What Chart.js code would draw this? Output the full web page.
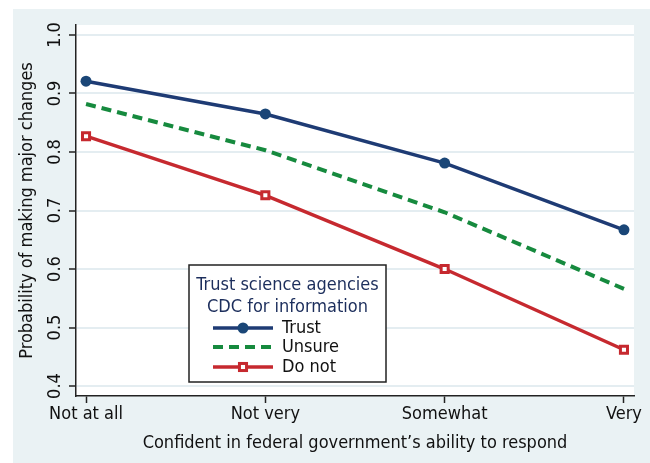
<!DOCTYPE html>
<html>
<head>
<meta charset="utf-8">
<script src="https://cdn.jsdelivr.net/npm/chart.js@4/dist/chart.umd.min.js"></script>
<style>
  html, body { margin: 0; background: #fff; overflow: hidden; width: 650px; height: 463px; }
  #wrap { position: absolute; left: 13px; top: 9px; width: 637px; height: 454px; background: #eaf2f4; }
</style>
</head>
<body>
<div id="wrap"><canvas id="myChart"></canvas></div>
<script>
const categories = ["Not at all", "Not very", "Somewhat", "Very"];
const trust = [0.921, 0.865, 0.781, 0.667];
const unsure = [0.882, 0.803, 0.697, 0.566];
const doNot = [0.827, 0.726, 0.600, 0.462];
const yTicks = [0.4, 0.5, 0.6, 0.7, 0.8, 0.9, 1.0];

const FONT = "'DejaVu Sans Condensed', 'Liberation Sans Narrow', sans-serif";
const toPoints = (arr) => arr.map((v, i) => ({ x: i, y: v }));

// white plot region
const plotBg = {
  id: "plotBg",
  beforeDraw(chart) {
    const { ctx, chartArea: a } = chart;
    ctx.save();
    ctx.fillStyle = "#fff";
    ctx.fillRect(a.left, a.top, a.right - a.left, a.bottom - a.top);
    ctx.restore();
  },
};

// vertical y tick labels (Stata style), placed with the y scale
const yLabels = {
  id: "yLabels",
  afterDraw(chart) {
    const { ctx } = chart;
    const s = chart.scales.y;
    ctx.save();
    ctx.font = "18px " + FONT;
    ctx.fillStyle = "#111";
    ctx.textAlign = "center";
    ctx.textBaseline = "middle";
    yTicks.forEach((v) => {
      ctx.save();
      ctx.translate(s.right - 21, s.getPixelForValue(v));
      ctx.rotate(-Math.PI / 2);
      ctx.fillText(v.toFixed(1), 0, 0);
      ctx.restore();
    });
    ctx.restore();
  },
};

// boxed legend inside the plot
const boxLegend = {
  id: "boxLegend",
  afterDatasetsDraw(chart) {
    const { ctx, chartArea: a } = chart;
    const x = a.left + 113, y = a.top + 240, w = 197, h = 117;
    ctx.save();
    ctx.fillStyle = "#fff";
    ctx.fillRect(x, y, w, h);
    ctx.strokeStyle = "#222";
    ctx.lineWidth = 1.5;
    ctx.strokeRect(x, y, w, h);

    ctx.font = "18px " + FONT;
    ctx.fillStyle = "#1c2e5c";
    ctx.textAlign = "center";
    ctx.textBaseline = "middle";
    ctx.fillText("Trust science agencies", x + w / 2, y + 20);
    ctx.fillText("CDC for information", x + w / 2, y + 42);

    const rows = [63, 82, 102];
    chart.data.datasets.forEach((ds, i) => {
      const ry = y + rows[i];
      ctx.strokeStyle = ds.borderColor;
      ctx.lineWidth = ds.borderWidth;
      ctx.setLineDash(ds.borderDash || []);
      ctx.beginPath();
      ctx.moveTo(x + 24, ry);
      ctx.lineTo(x + 84, ry);
      ctx.stroke();
      ctx.setLineDash([]);
      if (ds.pointRadius > 0) {
        const cx = x + 54;
        if (ds.pointStyle === "rect") {
          const s = ds.pointRadius / Math.SQRT2;
          ctx.fillStyle = ds.pointBackgroundColor;
          ctx.lineWidth = ds.pointBorderWidth;
          ctx.strokeStyle = ds.pointBorderColor;
          ctx.fillRect(cx - s, ry - s, 2 * s, 2 * s);
          ctx.strokeRect(cx - s, ry - s, 2 * s, 2 * s);
        } else {
          ctx.fillStyle = ds.pointBackgroundColor;
          ctx.beginPath();
          ctx.arc(cx, ry, ds.pointRadius, 0, Math.PI * 2);
          ctx.fill();
        }
      }
      ctx.fillStyle = "#111";
      ctx.textAlign = "left";
      ctx.fillText(ds.label, x + 93, ry);
    });
    ctx.restore();
  },
};

new Chart(document.getElementById("myChart"), {
  type: "line",
  data: {
    datasets: [
      {
        label: "Trust",
        data: toPoints(trust),
        borderColor: "#1e3b74",
        borderWidth: 3.5,
        pointRadius: 5.5,
        pointStyle: "circle",
        pointBackgroundColor: "#1a4677",
        pointBorderColor: "#1a4677",
        pointBorderWidth: 0,
      },
      {
        label: "Unsure",
        data: toPoints(unsure),
        borderColor: "#168a3e",
        borderWidth: 4,
        borderDash: [10, 6],
        pointRadius: 0,
      },
      {
        label: "Do not",
        data: toPoints(doNot),
        borderColor: "#c6292f",
        borderWidth: 3.5,
        pointRadius: 5,
        pointStyle: "rect",
        pointBackgroundColor: "#fff",
        pointBorderColor: "#c6292f",
        pointBorderWidth: 3,
      },
    ],
  },
  options: {
    responsive: true,
    maintainAspectRatio: false,
    animation: false,
    layout: { padding: { top: 16, right: 16, bottom: 0, left: 0 } },
    plugins: {
      legend: { display: false },
      tooltip: { enabled: false },
    },
    scales: {
      x: {
        type: "linear",
        min: -0.056,
        max: 3.056,
        afterBuildTicks: (axis) => {
          axis.ticks = categories.map((c, i) => ({ value: i }));
        },
        afterFit: (axis) => { axis.height = 67; },
        ticks: {
          callback: (v) => categories[v],
          color: "#111",
          font: { family: FONT, size: 18 },
          padding: 1,
          maxRotation: 0,
          autoSkip: false,
        },
        grid: { drawOnChartArea: false, tickLength: 7, tickColor: "#222", tickWidth: 1.5 },
        border: { color: "#222", width: 1.5 },
        title: {
          display: true,
          text: "Confident in federal government’s ability to respond",
          color: "#111",
          font: { family: FONT, size: 18 },
          padding: { top: 0, bottom: 9 },
        },
      },
      y: {
        min: 0.383,
        max: 1.017,
        afterBuildTicks: (axis) => {
          axis.ticks = yTicks.map((v) => ({ value: v }));
        },
        afterFit: (axis) => { axis.width = 63; },
        ticks: { display: false },
        grid: { color: "#e4edf1", lineWidth: 2, tickLength: 7, tickColor: "#222", tickWidth: 1.5 },
        border: { color: "#222", width: 1.5 },
        title: {
          display: true,
          text: "Probability of making major changes",
          color: "#111",
          font: { family: FONT, size: 18 },
          padding: { top: 4, bottom: 0 },
        },
      },
    },
  },
  plugins: [plotBg, yLabels, boxLegend],
});
</script>
</body>
</html>
